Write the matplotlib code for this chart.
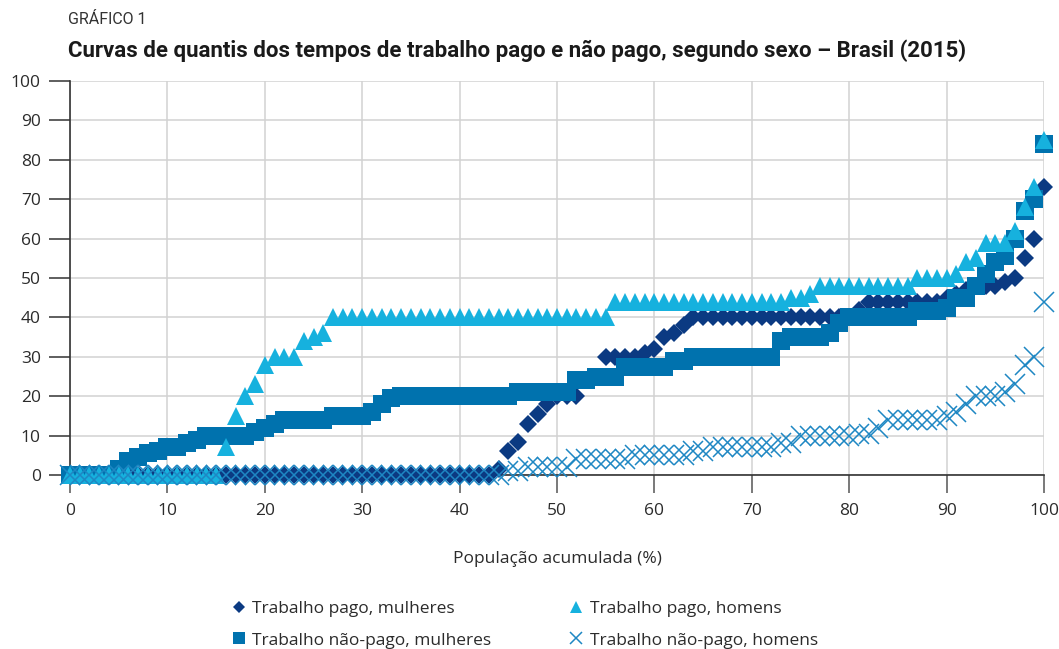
import matplotlib.pyplot as plt
from matplotlib.lines import Line2D
import numpy as np

# percentil da população acumulada (0..100)
populacao = np.arange(0, 101)

pago_mulheres = [
    0, 0, 0, 0, 0, 0, 0, 0, 0, 0, 0, 0, 0, 0, 0, 0, 0, 0, 0, 0,
    0, 0, 0, 0, 0, 0, 0, 0, 0, 0, 0, 0, 0, 0, 0, 0, 0, 0, 0, 0,
    0, 0, 0, 0, 1.5, 6, 8.5, 13, 15.5, 18, 20, 20, 20, 24, 25, 30, 30, 30, 30, 31,
    32, 35, 36, 38, 40, 40, 40, 40, 40, 40, 40, 40, 40, 40, 40, 40, 40, 40, 40, 40,
    40, 42, 44, 44, 44, 44, 44, 44, 44, 44, 45, 46, 47, 48, 48, 48, 49, 50, 55, 60,
    73]

pago_homens = [
    0, 0, 0, 0, 0, 0, 0, 0, 0, 0, 0, 0, 0, 0, 0, 0, 7, 15, 20, 23,
    28, 30, 30, 30, 34, 35, 36, 40, 40, 40, 40, 40, 40, 40, 40, 40, 40, 40, 40, 40,
    40, 40, 40, 40, 40, 40, 40, 40, 40, 40, 40, 40, 40, 40, 40, 40, 44, 44, 44, 44,
    44, 44, 44, 44, 44, 44, 44, 44, 44, 44, 44, 44, 44, 44, 45, 45, 46, 48, 48, 48,
    48, 48, 48, 48, 48, 48, 48, 50, 50, 50, 50, 51, 54, 55, 59, 59, 59, 62, 68, 73,
    85]

nao_pago_mulheres = [
    0, 0, 0, 0, 0, 1.5, 3.5, 4.5, 5.5, 6, 7, 7, 8, 9, 10, 10, 10, 10, 10, 11,
    12, 13, 14, 14, 14, 14, 14, 15, 15, 15, 15, 16, 18, 19.5, 20, 20, 20, 20, 20, 20,
    20, 20, 20, 20, 20, 20, 21, 21, 21, 21, 21, 21, 24, 24, 25, 25, 25, 27.5, 27.5, 27.5,
    27.5, 27.5, 29, 29, 30, 30, 30, 30, 30, 30, 30, 30, 30, 34, 35, 35, 35, 35, 36, 38.5,
    40, 40, 40, 40, 40, 40, 40, 41.5, 41.5, 41.5, 42.5, 45, 45, 48, 51, 54, 55.5, 60, 67, 70,
    84]

nao_pago_homens = [
    0, 0, 0, 0, 0, 0, 0, 0, 0, 0, 0, 0, 0, 0, 0, 0, 0, 0, 0, 0,
    0, 0, 0, 0, 0, 0, 0, 0, 0, 0, 0, 0, 0, 0, 0, 0, 0, 0, 0, 0,
    0, 0, 0, 0, 0, 1, 1, 2, 2, 2, 2, 2, 4, 4, 4, 4, 4, 4, 5, 5,
    5, 5, 5, 5, 6, 6, 7, 7, 7, 7, 7, 7, 7, 8, 8, 10, 10, 10, 10, 10,
    10, 10.5, 10.5, 12, 14, 14, 14, 14, 14, 14, 15, 16, 18, 20, 20, 20, 21, 23, 28, 30,
    44]

labels = ['Trabalho pago, mulheres', 'Trabalho não-pago, mulheres',
          'Trabalho pago, homens', 'Trabalho não-pago, homens']

c_pm = '#0B3A82'
c_npm = '#0072AE'
c_ph = '#16B1DE'
c_nph = '#1E87C3'

plt.rcParams['font.family'] = ['Open Sans', 'DejaVu Sans']
txt = '#2b2b2b'

fig = plt.figure(figsize=(10.59, 6.49), dpi=100)
ax = fig.add_axes([70 / 1059, 1 - 475 / 649, 974 / 1059, 394 / 649])

ax.plot(populacao, pago_mulheres, ls='none', marker='D', ms=9.5,
        color=c_pm, mew=0, clip_on=False, zorder=3)
ax.plot(populacao, nao_pago_mulheres, ls='none', marker='s', ms=12.5,
        color=c_npm, mew=0, clip_on=False, zorder=4)
ax.plot(populacao, pago_homens, ls='none', marker='^', ms=13,
        color=c_ph, mew=0, clip_on=False, zorder=5)
ax.plot(populacao, nao_pago_homens, ls='none', marker='x', ms=14,
        color=c_nph, mew=1.1, clip_on=False, zorder=6)

ax.set_xlim(0, 100)
ax.set_ylim(0, 100)
ax.set_xticks(range(0, 101, 10))
ax.set_yticks(range(0, 101, 10))
ax.grid(True, color='#d2d2d2', linewidth=1.1)
ax.set_axisbelow(True)
ax.spines[['top', 'right']].set_visible(False)
for s in ['left', 'bottom']:
    ax.spines[s].set_color('#333333')
    ax.spines[s].set_linewidth(1.2)
ax.tick_params(axis='y', length=15, width=1.1, color='#333333', pad=6,
               labelsize=12.5, labelcolor=txt)
ax.tick_params(axis='x', length=13, width=1.1, color='#555555', pad=7,
               labelsize=12.5, labelcolor=txt)
ax.set_xlabel('População acumulada (%)', fontsize=12.5, color=txt, labelpad=23)

fig.text(68 / 1059, 1 - 20 / 649, 'GRÁFICO 1', fontsize=11.5, color='#333333',
         va='center', ha='left', family=['Roboto', 'DejaVu Sans'])
title = fig.text(68 / 1059, 1 - 51 / 649,
                 'Curvas de quantis dos tempos de trabalho pago e não pago, segundo sexo – Brasil (2015)',
                 fontsize=16.5, fontweight='bold', color='#1a1a1a', va='center', ha='left',
                 family=['Roboto', 'DejaVu Sans'])
# ajusta o título à largura do original (~897 px)
fig.canvas.draw()
w = title.get_window_extent().width
title.set_fontsize(16.5 * 897 / w)

handles = [
    Line2D([], [], ls='none', marker='D', ms=6, color=c_pm, mew=0),
    Line2D([], [], ls='none', marker='s', ms=8, color=c_npm, mew=0),
    Line2D([], [], ls='none', marker='^', ms=8, color=c_ph, mew=0),
    Line2D([], [], ls='none', marker='x', ms=8, color=c_nph, mew=1.1),
]
fig.legend(handles, labels, ncol=2, loc='upper left',
           bbox_to_anchor=(216 / 1059, 1 - 585 / 649), frameon=False,
           fontsize=12.5, handlelength=0.8, handletextpad=0.4,
           columnspacing=4.45, labelspacing=0.9, borderpad=0.4,
           labelcolor=txt)

fig.savefig('out.png', dpi=100)
